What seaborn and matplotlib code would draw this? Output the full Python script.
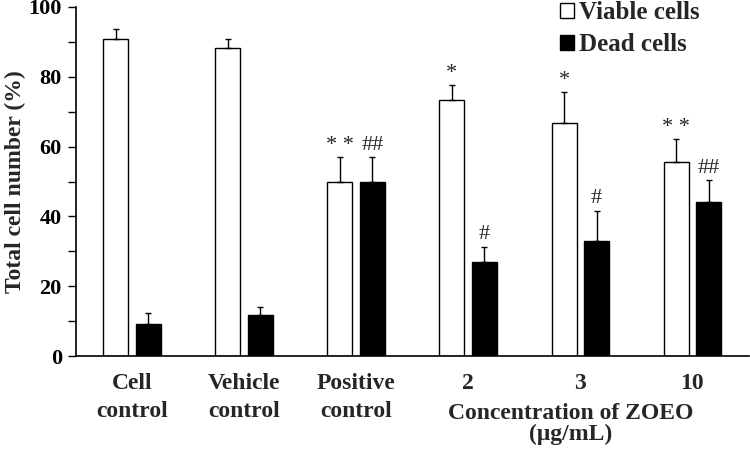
import pandas as pd
import seaborn as sns
import matplotlib.pyplot as plt
import numpy as np
from matplotlib.patches import Patch

# Data
groups = ['Cell\ncontrol', 'Vehicle\ncontrol', 'Positive\ncontrol', '2', '3', '10']
viable = [90.7, 88.3, 49.9, 73.2, 66.8, 55.7]
viable_err = [2.9, 2.4, 7.0, 4.5, 8.7, 6.4]
dead = [9.3, 11.7, 50.0, 26.9, 33.1, 44.2]
dead_err = [3.0, 2.4, 7.0, 4.5, 8.6, 6.1]
viable_sig = ['', '', '* *', '*', '*', '* *']
dead_sig = ['', '', '##', '#', '#', '##']

df = pd.DataFrame({
    'group': groups * 2,
    'value': viable + dead,
    'type': ['Viable cells'] * 6 + ['Dead cells'] * 6,
})

sns.set_style('ticks')
plt.rcParams['font.family'] = ['Liberation Serif', 'DejaVu Serif']
plt.rcParams['font.weight'] = 'bold'

fig = plt.figure(figsize=(7.5, 4.59), dpi=100)
ax = fig.add_axes([0.101, 0.224, 0.897, 0.761])

sns.barplot(data=df, x='group', y='value', hue='type', ax=ax,
            palette={'Viable cells': 'white', 'Dead cells': 'black'},
            edgecolor='black', linewidth=1.0, width=0.58, gap=0.23,
            errorbar=None, legend=False)

# one-sided error bars + significance marks
for cont, vals, errs, sig in zip(ax.containers, [viable, dead], [viable_err, dead_err],
                                 [viable_sig, dead_sig]):
    xs = [p.get_x() + p.get_width() / 2 for p in cont.patches]
    ax.errorbar(xs, vals, yerr=[np.zeros(len(vals)), errs], fmt='none',
                ecolor='black', elinewidth=1.0, capsize=2.5, capthick=1.0)
    for x, v, e, s in zip(xs, vals, errs, sig):
        if s:
            ax.text(x, v + e + 0.6, s, ha='center', va='bottom', fontsize=16,
                    fontweight='normal')

ax.set_ylim(0, 100)
ax.set_xlim(-0.5, 5.5)
ax.set_yticks(range(0, 101, 20))
ax.set_yticks(range(10, 100, 20), minor=True)
ax.tick_params(axis='y', which='both', direction='out', length=6, width=1,
               labelsize=16, colors='black', pad=4)
ax.tick_params(axis='x', length=0, labelsize=17, pad=12)
for lab in ax.get_xticklabels() + ax.get_yticklabels():
    lab.set_fontweight('bold')
for lab in ax.get_xticklabels():
    lab.set_linespacing(1.45)
ax.set_xlabel('')
ax.set_ylabel('Total cell number (%)', fontsize=17, fontweight='bold')
ax.yaxis.set_label_coords(-0.074, 0.5)
sns.despine(ax=ax)
for s in ['left', 'bottom']:
    ax.spines[s].set_linewidth(1.2)
    ax.spines[s].set_color('black')

ax.text(3.91, -0.18, 'Concentration of ZOEO', transform=ax.get_xaxis_transform(),
        ha='center', va='baseline', fontsize=17, fontweight='bold')
ax.text(3.91, -0.24, '(\u03bcg/mL)', transform=ax.get_xaxis_transform(),
        ha='center', va='baseline', fontsize=17, fontweight='bold')

# legend with square markers
handles = [Patch(facecolor='white', edgecolor='black', label='Viable cells'),
           Patch(facecolor='black', edgecolor='black', label='Dead cells')]
ax.legend(handles=handles, loc='upper left', bbox_to_anchor=(0.747, 0.997),
          bbox_transform=fig.transFigure, frameon=False, borderpad=0, borderaxespad=0,
          handlelength=0.55, handleheight=0.55, handletextpad=0.2, labelspacing=0.35,
          prop={'weight': 'bold', 'size': 18})

fig.savefig('out.png', dpi=100)
